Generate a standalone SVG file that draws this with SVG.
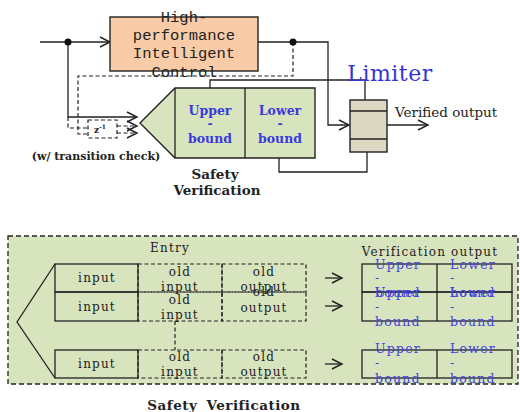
<svg xmlns="http://www.w3.org/2000/svg" width="520" height="412" viewBox="0 0 520 412">
<defs>
<marker id="arr" markerUnits="userSpaceOnUse" markerWidth="14" markerHeight="12" refX="11" refY="6" orient="auto" viewBox="0 0 14 12">
<path d="M1,1 L11,6 L1,11" fill="none" stroke="#222" stroke-width="1.4"/>
</marker>
</defs>
<style>
.ln{fill:none;stroke:#222;stroke-width:1.3}
.dl{fill:none;stroke:#222;stroke-width:1.2;stroke-dasharray:4 2.5}
.box{stroke:#222;stroke-width:1.4}
.mono{font-family:"Liberation Mono",monospace;font-size:15.5px;fill:#222;text-anchor:middle}
.sb{font-family:"DejaVu Serif",serif;font-weight:bold;fill:#222;text-anchor:middle}
.bb{font-family:"DejaVu Serif",serif;font-weight:bold;fill:#3a3adc;font-size:12.5px;text-anchor:middle}
.t{font-family:"DejaVu Serif",serif;font-size:12px;fill:#222;text-anchor:middle;letter-spacing:1.2px}
.bt{font-family:"DejaVu Serif",serif;font-size:12.5px;fill:#4444dd;letter-spacing:1.2px}
.grn{fill:#d7e4bd}
</style>

<g id="connectors">
<path class="ln" d="M40,42 H110" marker-end="url(#arr)"/>
<path class="ln" d="M68,42 V117 H137" marker-end="url(#arr)"/>
<path class="ln" d="M258,42 H328 V125 H349" marker-end="url(#arr)"/>
<path class="dl" d="M293,42 V76 H78 V134 H88"/>
<path class="dl" d="M68,117 V128 H88"/>
<path class="dl" d="M117,126 H137" marker-end="url(#arr)"/>
<path class="dl" d="M117,133 H137" marker-end="url(#arr)"/>
<path class="ln" d="M210,88 V80 H365 V110" marker-end="url(#arr)"/>
<path class="ln" d="M279,158 V172 H367 V141" marker-end="url(#arr)"/>
<path class="ln" d="M387,125 H428" marker-end="url(#arr)"/>
<circle cx="68" cy="42" r="3.5" fill="#111"/>
<circle cx="293" cy="42" r="3.5" fill="#111"/>
</g>

<g id="control">
<rect class="box" x="110" y="17" width="148" height="54" fill="#f9cba7"/>
<text class="mono" x="184" y="22">High-</text>
<text class="mono" x="184" y="40">performance</text>
<text class="mono" x="184" y="58">Intelligent</text>
<text class="mono" x="184" y="77">Control</text>
</g>

<g id="delay">
<rect class="dl" x="88" y="120" width="29" height="18" fill="#fff"/>
<text x="100" y="133" font-family="DejaVu Serif, serif" font-weight="bold" font-size="9" fill="#222" text-anchor="middle">z<tspan font-size="6" dy="-4">-1</tspan></text>
<text class="sb" x="96" y="160" font-size="11">(w/ transition check)</text>
</g>

<g id="safety">
<path class="box grn" d="M140,123 L175,88 H315 V158 H175 Z"/>
<path class="ln" d="M175,88 V158 M245,88 V158"/>
<text class="bb" x="210" y="115">Upper</text>
<text class="bb" x="210" y="128">-</text>
<text class="bb" x="210" y="143">bound</text>
<text class="bb" x="280" y="115">Lower</text>
<text class="bb" x="280" y="128">-</text>
<text class="bb" x="280" y="143">bound</text>
<text class="sb" x="215" y="179" font-size="13.5">Safety</text>
<text class="sb" x="217" y="195" font-size="13.5">Verification</text>
</g>

<g id="limiter">
<rect class="box" x="350" y="100" width="37" height="52" fill="#ddd8c4"/>
<path class="ln" d="M350,111 H387 M350,139 H387"/>
<text x="390" y="81" font-family="DejaVu Serif, serif" font-size="22" fill="#3434d8" text-anchor="middle" letter-spacing="0.5">Limiter</text>
<text x="395" y="117" font-family="DejaVu Serif, serif" font-size="13.5" fill="#222">Verified output</text>
</g>

<g id="table">
<rect x="8" y="236" width="510" height="148" class="grn" stroke="#222" stroke-width="1.3" stroke-dasharray="5 3"/>
<path class="ln" d="M55,264 L17,322 L55,378"/>
<text class="t" x="170" y="252" font-size="12.5">Entry</text>
<text class="t" x="430" y="256" font-size="13">Verification output</text>

<rect class="ln" x="55" y="264" width="83" height="28"/>
<rect class="ln" x="55" y="292" width="83" height="29"/>
<rect class="ln" x="55" y="350" width="83" height="28"/>
<text class="t" x="97" y="282">input</text>
<text class="t" x="97" y="311">input</text>
<text class="t" x="97" y="368">input</text>

<rect class="dl" x="138" y="264" width="84" height="28"/>
<rect class="dl" x="138" y="292" width="84" height="29"/>
<rect class="dl" x="138" y="350" width="84" height="28"/>
<rect class="dl" x="222" y="264" width="84" height="28"/>
<rect class="dl" x="222" y="292" width="84" height="29"/>
<rect class="dl" x="222" y="350" width="84" height="28"/>
<path class="dl" d="M175,321 V350"/>

<text class="t" x="180" y="276">old</text>
<text class="t" x="180" y="291">input</text>
<text class="t" x="180" y="304">old</text>
<text class="t" x="180" y="319">input</text>
<text class="t" x="180" y="361">old</text>
<text class="t" x="180" y="376">input</text>
<text class="t" x="264" y="276">old</text>
<text class="t" x="264" y="291">output</text>
<text class="t" x="264" y="296">old</text>
<text class="t" x="264" y="312">output</text>
<text class="t" x="264" y="361">old</text>
<text class="t" x="264" y="376">output</text>

<path class="ln" d="M325,278 H342" marker-end="url(#arr)"/>
<path class="ln" d="M325,306 H342" marker-end="url(#arr)"/>
<path class="ln" d="M325,364 H342" marker-end="url(#arr)"/>

<rect class="ln" x="362" y="264" width="150" height="28"/>
<rect class="ln" x="362" y="292" width="150" height="29"/>
<rect class="ln" x="362" y="350" width="150" height="28"/>
<path class="ln" d="M437,264 V321 M437,350 V378"/>

<text class="bt" x="375" y="269">Upper</text>
<text class="bt" x="375" y="282">-</text>
<text class="bt" x="375" y="297">bound</text>
<text class="bt" x="450" y="269">Lower</text>
<text class="bt" x="450" y="282">-</text>
<text class="bt" x="450" y="297">bound</text>
<text class="bt" x="375" y="297">Upper</text>
<text class="bt" x="375" y="311">-</text>
<text class="bt" x="375" y="326">bound</text>
<text class="bt" x="450" y="297">Lower</text>
<text class="bt" x="450" y="311">-</text>
<text class="bt" x="450" y="326">bound</text>
<text class="bt" x="375" y="353">Upper</text>
<text class="bt" x="375" y="367">-</text>
<text class="bt" x="375" y="383">bound</text>
<text class="bt" x="450" y="353">Lower</text>
<text class="bt" x="450" y="367">-</text>
<text class="bt" x="450" y="383">bound</text>

<text class="sb" x="224" y="410" font-size="13.5" word-spacing="4" letter-spacing="0.5">Safety Verification</text>
</g>
</svg>
